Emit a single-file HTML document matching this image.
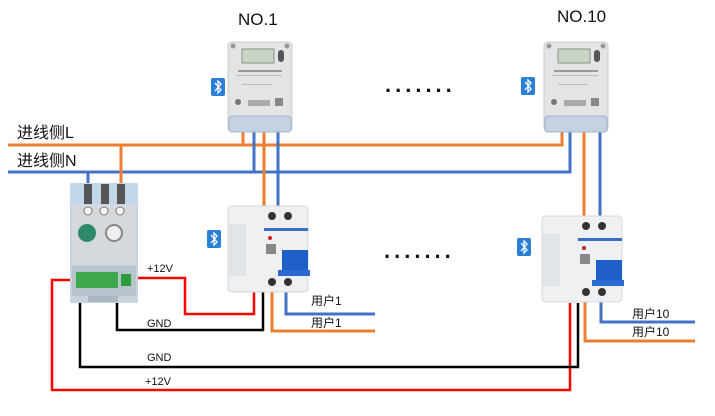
<!DOCTYPE html>
<html><head><meta charset="utf-8"><style>
html,body{margin:0;padding:0;background:#fff;width:715px;height:416px;overflow:hidden}
svg{display:block}
text{font-family:"Liberation Sans","Noto Sans CJK SC",sans-serif}
</style></head><body>
<svg width="715" height="416" viewBox="0 0 715 416" xmlns="http://www.w3.org/2000/svg">
<defs>
<g id="meter">
 <rect x="0" y="0" width="64" height="90" rx="4" fill="#e2e4e6" stroke="#c8ccd0"/>
 <rect x="14" y="7" width="32" height="14" fill="#c9d3c4" stroke="#8a948a"/>
 <circle cx="5" cy="4" r="2.5" fill="#999"/><circle cx="59" cy="4" r="2.5" fill="#999"/>
 <rect x="50" y="8" width="6" height="12" rx="3" fill="#555"/>
 <rect x="10" y="28" width="44" height="2" fill="#999"/>
 <rect x="8" y="33" width="46" height="1" fill="#bbb"/>
 <rect x="14" y="42" width="30" height="1" fill="#bbb"/>
 <circle cx="10" cy="60" r="3" fill="#777"/>
 <rect x="20" y="58" width="22" height="6" fill="#aaa"/>
 <rect x="47" y="56" width="8" height="8" fill="#888"/>
 <rect x="1" y="74" width="62" height="16" rx="3" fill="#c4d2e2" stroke="#a5b5c8"/>
</g>
<g id="bt">
 <rect x="0" y="0" width="14" height="18" rx="2" fill="#2a7fd8"/>
 <path d="M4 5 L10 12 L7 15 L7 3 L10 6 L4 13" stroke="#fff" stroke-width="1.3" fill="none"/>
</g>
<g id="brk">
 <rect x="0" y="0" width="80" height="86" rx="4" fill="#eef0f2" stroke="#d5d8dc"/>
 <rect x="0" y="18" width="18" height="52" fill="#e2e5e8"/>
 <circle cx="44" cy="10" r="4" fill="#333"/><circle cx="60" cy="10" r="4" fill="#333"/>
 <circle cx="44" cy="76" r="4" fill="#333"/><circle cx="60" cy="76" r="4" fill="#333"/>
 <rect x="36" y="22" width="44" height="3" fill="#3a6fc8"/>
 <circle cx="42" cy="32" r="2" fill="#c22"/>
 <rect x="38" y="38" width="10" height="10" fill="#888"/>
 <rect x="54" y="44" width="26" height="22" fill="#1f5fc8"/>
 <rect x="50" y="64" width="32" height="6" fill="#2a6ad2"/>
</g>
</defs>
<text x="238" y="25" font-size="17" fill="#111">NO.1</text>
<text x="557" y="22" font-size="17" fill="#111">NO.10</text>
<text x="385" y="92" font-size="22" font-weight="bold" fill="#111" letter-spacing="4">.......</text>
<text x="384" y="258" font-size="22" font-weight="bold" fill="#111" letter-spacing="4">.......</text>
<text x="17" y="138" font-size="16" fill="#111">进线侧L</text>
<text x="17" y="166" font-size="16" fill="#111">进线侧N</text>

<g fill="none" stroke-width="3">
 <path d="M8 145 H562 V128" stroke="#ed7d31"/>
 <path d="M8 172 H570 V128" stroke="#4472c4"/>
 <path d="M243 145 V128" stroke="#ed7d31"/>
 <path d="M254 172 V128" stroke="#4472c4"/>
 <path d="M121 145 V185" stroke="#ed7d31"/>
 <path d="M88 172 V185" stroke="#4472c4"/>
 <path d="M264 128 V212" stroke="#ed7d31"/>
 <path d="M278 128 V212" stroke="#4472c4"/>
 <path d="M584 128 V216" stroke="#ed7d31"/>
 <path d="M600 128 V216" stroke="#4472c4"/>
 <path d="M286 285 V314 H375" stroke="#4472c4"/>
 <path d="M272 285 V331 H375" stroke="#ed7d31"/>
 <path d="M601 296 V322 H695" stroke="#4472c4"/>
 <path d="M585 296 V341 H695" stroke="#ed7d31"/>
 <path d="M117 278 H185 V314 H254 V290" stroke="#ff0000" stroke-width="2.5"/>
 <path d="M80 280 H52 V390 H570 V303" stroke="#ff0000" stroke-width="2.5"/>
 <path d="M117 286 V330 H263 V290" stroke="#000" stroke-width="2.5"/>
 <path d="M80 286 V367 H578 V303" stroke="#000" stroke-width="2.5"/>
</g>

<rect x="70" y="183" width="68" height="120" fill="#c9d3dd"/>
<rect x="70" y="183" width="68" height="22" fill="#c3d6ea"/>
<rect x="84" y="184" width="8" height="20" fill="#555"/>
<rect x="101" y="184" width="8" height="20" fill="#555"/>
<rect x="117" y="184" width="8" height="20" fill="#555"/>
<rect x="72" y="205" width="64" height="60" fill="#d6d9dc"/>
<circle cx="88" cy="211" r="4" fill="#fff" stroke="#777"/><circle cx="104" cy="211" r="4" fill="#fff" stroke="#777"/><circle cx="120" cy="211" r="4" fill="#fff" stroke="#777"/>
<circle cx="87" cy="233" r="9" fill="#2c8a6a"/>
<circle cx="114" cy="233" r="8" fill="#eee" stroke="#888" stroke-width="2"/>
<rect x="72" y="266" width="64" height="30" fill="#b9c3cc"/>
<rect x="76" y="272" width="42" height="16" fill="#3da84a"/>
<rect x="121" y="274" width="10" height="12" fill="#2a9a3a"/>
<rect x="88" y="296" width="30" height="6" fill="#aab6c2"/>

<use href="#meter" x="228" y="42"/>
<use href="#meter" x="544" y="42"/>
<use href="#bt" x="211" y="78"/>
<use href="#bt" x="521" y="77"/>
<use href="#brk" x="228" y="206"/>
<use href="#brk" x="542" y="216"/>
<use href="#bt" x="207" y="230"/>
<use href="#bt" x="517" y="238"/>

<text x="147" y="272" font-size="11" fill="#111">+12V</text>
<text x="147" y="327" font-size="11" fill="#111">GND</text>
<text x="147" y="361" font-size="11" fill="#111">GND</text>
<text x="145" y="385" font-size="11" fill="#111">+12V</text>
<text x="311" y="305" font-size="12" fill="#111">用户1</text>
<text x="311" y="327" font-size="12" fill="#111">用户1</text>
<text x="632" y="318" font-size="12" fill="#111">用户10</text>
<text x="632" y="336" font-size="12" fill="#111">用户10</text>
</svg>
</body></html>
